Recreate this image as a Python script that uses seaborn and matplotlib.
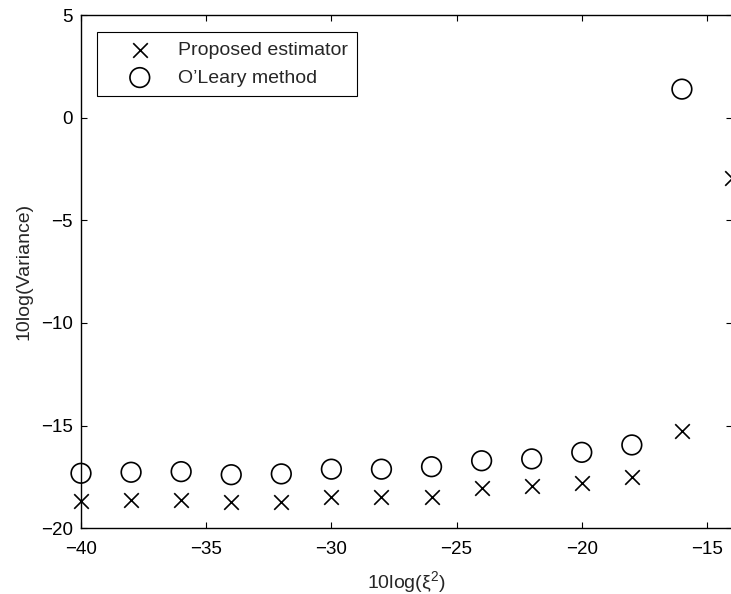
import matplotlib
matplotlib.use("Agg")
import matplotlib.pyplot as plt
import seaborn as sns
import pandas as pd
import numpy as np

sns.set_style("white")
plt.rcParams['font.family'] = ['Liberation Sans', 'DejaVu Sans']
plt.rcParams['mathtext.default'] = 'regular'

# Data
x_proposed = [-40, -38, -36, -34, -32, -30, -28, -26, -24, -22, -20, -18, -16, -14]
y_proposed = [-18.67, -18.62, -18.62, -18.73, -18.73, -18.49, -18.49, -18.46,
              -18.02, -17.92, -17.78, -17.49, -15.26, -2.95]
x_oleary = [-40, -38, -36, -34, -32, -30, -28, -26, -24, -22, -20, -18, -16]
y_oleary = [-17.32, -17.27, -17.24, -17.39, -17.35, -17.12, -17.12, -17.0,
            -16.71, -16.62, -16.30, -15.94, 1.39]

label_proposed = "Proposed estimator"
label_oleary = "O\u2019Leary method"
xticks = [-40, -35, -30, -25, -20, -15]
yticks = [-20, -15, -10, -5, 0, 5]

df_p = pd.DataFrame({"x": x_proposed, "y": y_proposed})
df_o = pd.DataFrame({"x": x_oleary, "y": y_oleary})

fig = plt.figure(figsize=(7.31, 5.94), dpi=100)
ax = fig.add_axes([81 / 731, 1 - 528.3 / 594, 651 / 731, (528.3 - 15) / 594])

sns.scatterplot(data=df_p, x="x", y="y", ax=ax, marker="x", s=110,
                color="black", linewidth=1.2, label=label_proposed, clip_on=False)
sns.scatterplot(data=df_o, x="x", y="y", ax=ax, marker="o", s=200,
                facecolors="none", edgecolor="black", linewidth=1.2,
                label=label_oleary, clip_on=False)

ax.set_xlim(-40, -14)
ax.set_ylim(-20, 5)
ax.set_xticks(xticks)
ax.set_yticks(yticks)
ax.tick_params(direction="in", length=4.5, width=0.8, labelsize=13.5,
               top=True, right=True, bottom=True, left=True, colors="black", pad=9)
ax.tick_params(axis="y", pad=6)
for s in ax.spines.values():
    s.set_visible(True)
    s.set_color("black")
    s.set_linewidth(1.0)

ax.set_xlabel("10log(\u03be$^{2}$)", fontsize=14, labelpad=8)
ax.set_ylabel("10log(Variance)", fontsize=14, labelpad=6)

leg = ax.legend(loc="upper left", bbox_to_anchor=((97 - 81) / 651, (528.3 - 32) / 513.3),
                borderaxespad=0, fontsize=14, frameon=True, fancybox=False,
                edgecolor="black", handletextpad=0.25, borderpad=0.5,
                labelspacing=0.5, handlelength=3.4)
leg.get_frame().set_linewidth(0.8)
leg.get_frame().set_alpha(1)

fig.savefig("out.png", dpi=100)
